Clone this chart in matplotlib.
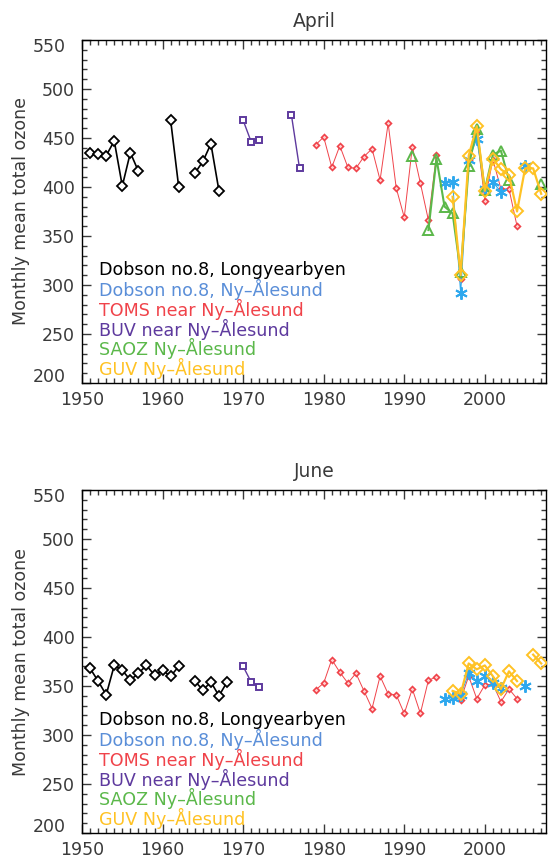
"""
Monthly mean total ozone over Svalbard, April and June, from several instruments.
"""

import numpy as np
import matplotlib
matplotlib.use("Agg")
import matplotlib.pyplot as plt
from matplotlib.ticker import MultipleLocator, FuncFormatter

nan = np.nan

# ---- April ----
apr_dobson_lyb_years = [1951, 1952, 1953, 1954, 1955, 1956, 1957, 1958, 1961, 1962, 1963, 1964, 1965, 1966, 1967]
apr_dobson_lyb = [435, 434, 432, 447, 401, 435, 416, nan, 468, 400, nan, 414, 426, 444, 396]

apr_buv_years = [1970, 1971, 1972, 1973, 1976, 1977]
apr_buv = [468, 446, 448, nan, 473, 419]

apr_toms_years = list(range(1979, 2005))
apr_toms = [443, 451, 420, 442, 420, 419, 431, 439, 407, 465, 399, 369, 441, 404, 366, 433,
            nan, nan, 306, 427, 455, 386, 428, 398, 398, 360]

apr_dobson_nya_years = [1995, 1996, 1997, 1998, 1999, 2000, 2001, 2002, 2003, 2005]
apr_dobson_nya = [404, 405, 292, 428, 449, 398, 405, 395, nan, 421]

apr_saoz_years = [1991, 1992, 1993, 1994, 1995, 1996, 1997, 1998, 1999, 2000, 2001, 2002, 2003, 2004, 2007]
apr_saoz = [432, nan, 356, 429, 380, 373, 313, 421, 459, 397, 433, 437, 407, nan, 403]

apr_guv_years = list(range(1996, 2008))
apr_guv = [390, 310, 432, 462, 396, 429, 418, 412, 375, 419, 419, 393]

# ---- June ----
jun_dobson_lyb_years = [1951, 1952, 1953, 1954, 1955, 1956, 1957, 1958, 1959, 1960, 1961, 1962,
                        1963, 1964, 1965, 1966, 1967, 1968]
jun_dobson_lyb = [368, 355, 341, 371, 366, 356, 363, 371, 361, 366, 360, 370,
                  nan, 355, 346, 354, 340, 354]

jun_buv_years = [1970, 1971, 1972]
jun_buv = [370, 354, 349]

jun_toms_years = list(range(1979, 2005))
jun_toms = [346, 353, 377, 364, 353, 363, 345, 327, 360, 342, 341, 322, 347, 322, 356, 359,
            nan, nan, 336, 360, 337, 351, 352, 334, 347, 337]

jun_dobson_nya_years = [1995, 1996, 1997, 1998, 1999, 2000, 2001, 2002, 2003, 2005]
jun_dobson_nya = [337, 338, 341, 363, 355, 360, 353, 348, nan, 350]

jun_guv_years = list(range(1996, 2008))
jun_guv = [345, 342, 373, 367, 371, 360, 347, 365, 355, nan, 382, 373]

legend_labels = ["Dobson no.8, Longyearbyen", "Dobson no.8, Ny\u2013\u00c5lesund",
                 "TOMS near Ny\u2013\u00c5lesund", "BUV near Ny\u2013\u00c5lesund",
                 "SAOZ Ny\u2013\u00c5lesund", "GUV Ny\u2013\u00c5lesund"]

BLACK = "#000000"
BLUE_TXT = "#5a8ed8"
BLUE = "#2ea8ee"
RED = "#f0434a"
PURPLE = "#5e3a9e"
GREEN = "#5bb84a"
YELLOW = "#ffc224"
TEXT = "#3a3a3a"

legend_colors = [BLACK, BLUE_TXT, RED, PURPLE, GREEN, YELLOW]

Y_MIN, Y_MAX = 200, 550

plt.rcParams['font.family'] = ['DejaVu Sans']

fig = plt.figure(figsize=(5.52, 8.61), dpi=100)
ax_top = fig.add_axes([0.1486, 0.5552, 0.8406, 0.3984])
ax_bot = fig.add_axes([0.1486, 0.0325, 0.8406, 0.3984])


def inner_labels(v, pos):
    # the two end values are drawn separately, nudged inside the frame
    if v in (Y_MIN, Y_MAX):
        return ""
    return f"{v:.0f}"


def style_axis(ax, title):
    ax.set_xlim(1950, 2007.6)
    ax.set_ylim(Y_MIN, Y_MAX)
    ax.xaxis.set_major_locator(MultipleLocator(10))
    ax.xaxis.set_minor_locator(MultipleLocator(1))
    ax.yaxis.set_major_locator(MultipleLocator(50))
    ax.yaxis.set_minor_locator(MultipleLocator(10))
    ax.yaxis.set_major_formatter(FuncFormatter(inner_labels))
    ax.tick_params(which='both', direction='in', top=True, right=True,
                   colors=TEXT, labelsize=12.5, width=1)
    ax.tick_params(which='major', length=6.5)
    ax.tick_params(which='minor', length=3.5)
    ax.tick_params(axis='x', which='major', pad=6)
    ax.tick_params(axis='y', which='major', pad=5)
    ax.set_xticks([1950, 1960, 1970, 1980, 1990, 2000])
    for v, dy in ((Y_MIN, 4), (Y_MAX, -5)):
        ax.annotate(f"{v}", xy=(0, v), xycoords=('axes fraction', 'data'),
                    xytext=(-11.5, dy), textcoords='offset points',
                    ha='right', va='center', fontsize=12.5, color=TEXT)
    for s in ax.spines.values():
        s.set_color(BLACK)
        s.set_linewidth(1)
    ax.set_title(title, fontsize=13.5, color=TEXT, pad=9)
    ax.set_ylabel("Monthly mean total ozone", fontsize=12.5, color=TEXT, labelpad=9)
    for i, (lab, c) in enumerate(zip(legend_labels, legend_colors)):
        ax.text(1952.1, 315 - 20 * i, lab, color=c, fontsize=12.6, va='center', ha='left')


def series(ax, years, vals, color, marker, ms, lw, mew, mfc='white', z=2):
    ax.plot(years, np.array(vals, dtype=float), color=color, lw=lw, marker=marker,
            ms=ms, mec=color, mfc=mfc, mew=mew, zorder=z)


def draw_panel(ax, d):
    series(ax, d['lyb'][0], d['lyb'][1], BLACK, 'D', 5.5, 1.2, 1.3, z=2)
    series(ax, d['buv'][0], d['buv'][1], PURPLE, 's', 4.5, 1.0, 1.4, z=2)
    series(ax, d['toms'][0], d['toms'][1], RED, 'D', 3.0, 0.7, 1.2, mfc='#ffd0d0', z=3)
    series(ax, d['nya'][0], d['nya'][1], BLUE, (6, 2, 0), 9, 0.8, 1.4, z=4)
    if 'saoz' in d:
        series(ax, d['saoz'][0], d['saoz'][1], GREEN, '^', 7.5, 1.5, 1.4, mfc='none', z=5)
    series(ax, d['guv'][0], d['guv'][1], YELLOW, 'D', 6.0, 1.6, 1.4, mfc='none', z=6)


draw_panel(ax_top, {
    'lyb': (apr_dobson_lyb_years, apr_dobson_lyb),
    'buv': (apr_buv_years, apr_buv),
    'toms': (apr_toms_years, apr_toms),
    'nya': (apr_dobson_nya_years, apr_dobson_nya),
    'saoz': (apr_saoz_years, apr_saoz),
    'guv': (apr_guv_years, apr_guv),
})
style_axis(ax_top, "April")

draw_panel(ax_bot, {
    'lyb': (jun_dobson_lyb_years, jun_dobson_lyb),
    'buv': (jun_buv_years, jun_buv),
    'toms': (jun_toms_years, jun_toms),
    'nya': (jun_dobson_nya_years, jun_dobson_nya),
    'guv': (jun_guv_years, jun_guv),
})
style_axis(ax_bot, "June")

fig.savefig("out.png", dpi=100)
